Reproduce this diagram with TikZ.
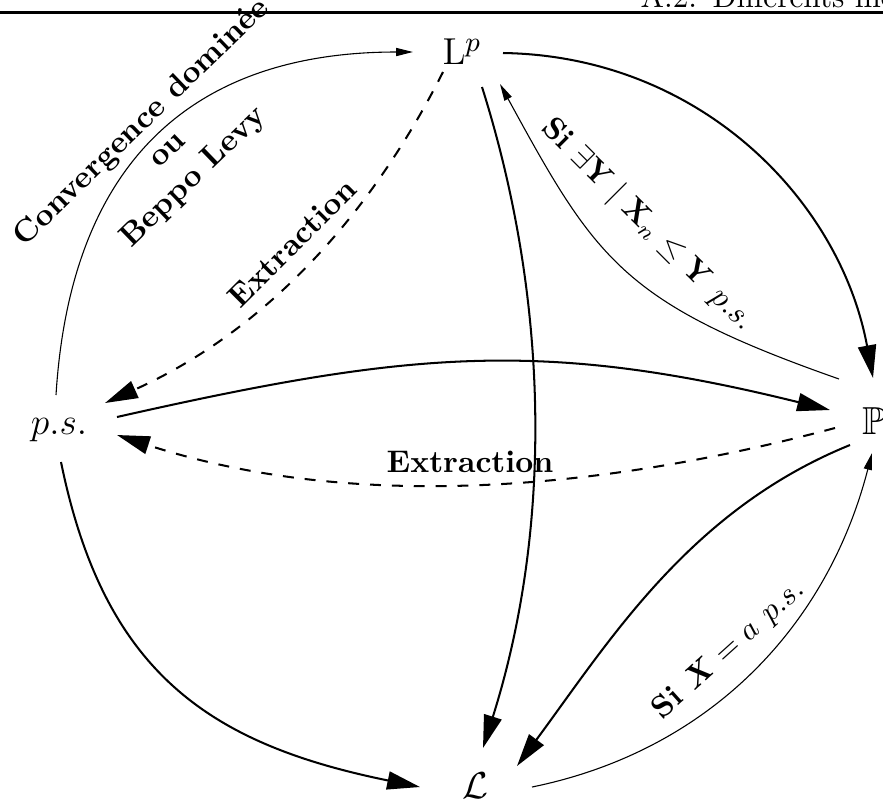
\documentclass[tikz,border=0pt]{standalone}
\usepackage{amsmath,amssymb}
\usetikzlibrary{arrows.meta}
\begin{document}
\begin{tikzpicture}[x=0.32pt,y=-0.32pt,
  big/.style={-{Triangle[length=10.5pt,width=5.8pt]}, line width=0.65pt},
  small/.style={-{Triangle[length=5.4pt,width=2.6pt]}, line width=0.35pt},
  dsh/.style={dash pattern=on 3.5pt off 3.5pt},
  lbl/.style={font=\bfseries, inner sep=0pt},
  vert/.style={font=\fontsize{12.5}{15}\selectfont, inner sep=0pt}]
\useasboundingbox (0,0) rectangle (883,801);
\clip (0,0) rectangle (883,801);
\fill[white] (0,0) rectangle (883,801);
% header
\node[anchor=base west, inner sep=0pt] (head) at (640,7) {A.2.\enspace Différents mo};
\draw[line width=0.8pt] (0,12.5) -- (883,12.5);
% vertices
\node[vert] (Lp) at (462,52) {$\mathrm{L}^p$};
\node[vert] (ps) at (59,430) {$p.s.$};
\node[vert] (P) at (874,421) {$\mathbb{P}$};
\node[vert] (L) at (475,786) {$\mathcal{L}$};
% connector ends
\coordinate (psN) at (56,395);
\coordinate (psNE) at (105,403);
\coordinate (psE1) at (117,417);
\coordinate (psE2) at (117,435);
\coordinate (psS) at (61,462);
\coordinate (LpW) at (413,52);
\coordinate (LpSW) at (443,72);
\coordinate (LpE) at (503,53);
\coordinate (LpSE) at (500,84);
\coordinate (LpS) at (482,87);
\coordinate (PN) at (873,378);
\coordinate (PNW) at (839,379);
\coordinate (PW1) at (830,410);
\coordinate (PW2) at (835,428);
\coordinate (PSW) at (850,445);
\coordinate (PS) at (872,453);
\coordinate (LN) at (483,748);
\coordinate (LNE) at (517,766);
\coordinate (LE) at (532,787);
\coordinate (LW) at (420,787);
% connectors
\draw[small] (psN) .. controls (70,170) and (185,52) .. (LpW);
\draw[big,dsh] (LpSW) .. controls (366.5,223.3) and (259.7,333.3) .. (psNE);
\draw[big] (LpE) .. controls (700,56) and (840,200) .. (PN);
\draw[small] (PNW) .. controls (622.8,303.1) and (596,260) .. (LpSE);
\draw[big] (LpS) .. controls (550.7,304.6) and (551.7,530.4) .. (LN);
\draw[big] (psE1) .. controls (407.5,351.4) and (541,338.5) .. (PW1);
\draw[big,dsh] (PW2) .. controls (597.4,491.5) and (350.7,511.3) .. (psE2);
\draw[big] (PSW) .. controls (690,510) and (610,640) .. (LNE);
\draw[small] (LE) .. controls (708.4,751) and (827,627.6) .. (PS);
\draw[big] (psS) .. controls (104,672.7) and (209.3,744) .. (LW);
% labels
\node[lbl, rotate=44, align=center] (t1) at (168,150) {Convergence dominée\\ou\\Beppo Levy};
\node[lbl, rotate=45] (t2) at (292,243) {Extraction};
\node[lbl, rotate=-45] (t3) at (647,225) {Si $\exists\mathbf{Y}\mid\mathbf{X}_n \leq \mathbf{Y}$ $p.s.$};
\node[lbl, anchor=base] (t4) at (470,472) {Extraction};
\node[lbl, rotate=42] (t5) at (729,650) {Si $\boldsymbol{X}=a$ $p.s.$};
\end{tikzpicture}
\end{document}
